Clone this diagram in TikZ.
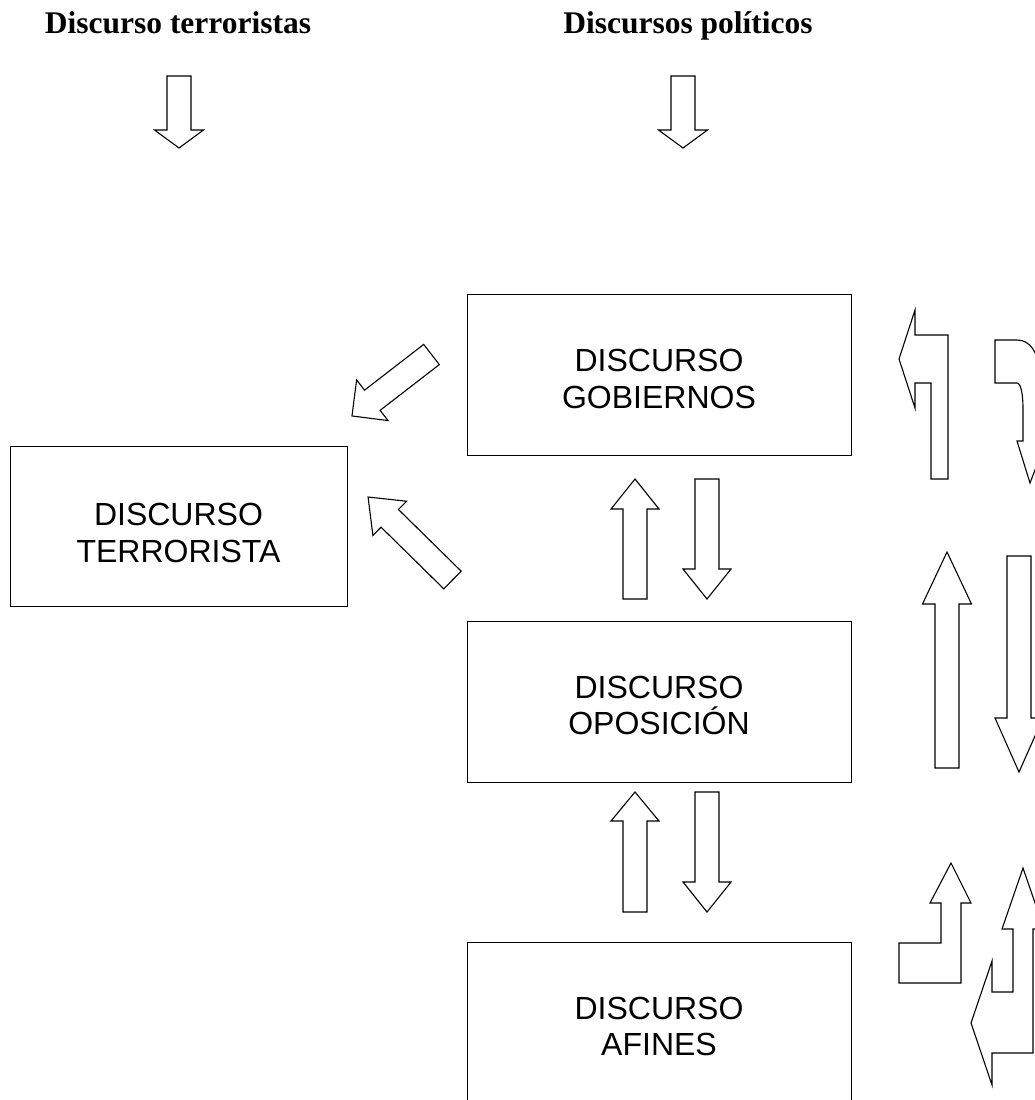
\documentclass[tikz,border=0pt]{standalone}
\usepackage{fontspec}
\setmainfont{Liberation Serif}
\newfontfamily\boxfont{Liberation Sans}

% straight block arrow: start x, start y, direction, length, shaft half-width, head half-width, head length
\newcommand\blockarr[7]{%
  \draw[blockarrow,shift={(#1,#2)},rotate=#3]
    (0,-#5) -- ({#4-#7},-#5) -- ({#4-#7},-#6) -- (#4,0) --
    ({#4-#7},#6) -- ({#4-#7},#5) -- (0,#5) -- cycle;}

\begin{document}
\begin{tikzpicture}[x=1pt,y=-1pt,
  panel/.style={draw=black,line width=1.4pt,inner sep=0pt,anchor=north west},
  panellabel/.style={font=\boxfont\fontsize{32}{36.5}\selectfont,align=center,inner sep=0pt},
  heading/.style={font=\fontsize{31.5}{36}\selectfont\bfseries,inner sep=0pt,anchor=base},
  blockarrow/.style={draw=black,line width=1.1pt,fill=white,line join=miter}]

\useasboundingbox (0,0) rectangle (1034,1100);

% headings
\node[heading] (hterr) at (178,33) {Discurso terroristas};
\node[heading] (hpol) at (688,33) {Discursos políticos};

% arrows under the headings
\blockarr{179}{76}{270}{72}{12}{24.5}{18}
\blockarr{683}{76}{270}{72}{12}{24.5}{18}

% panels
\node[panel,minimum width=384pt,minimum height=161pt] (gob) at (467,294) {};
\node[panellabel] (gobtxt) at (659,379) {DISCURSO\\GOBIERNOS};

\node[panel,minimum width=337pt,minimum height=160pt] (ter) at (10,446) {};
\node[panellabel] (tertxt) at (178.5,533) {DISCURSO\\TERRORISTA};

\node[panel,minimum width=384pt,minimum height=161pt] (opo) at (467,621) {};
\node[panellabel] (opotxt) at (659,705.5) {DISCURSO\\OPOSICIÓN};

\node[panel,minimum width=384pt,minimum height=161pt] (afi) at (467,942) {};
\node[panellabel] (afitxt) at (659,1026.5) {DISCURSO\\AFINES};

% diagonal arrows towards the terrorist discourse
\blockarr{431.5}{354.5}{217.7}{100.5}{12.75}{25.7}{25.7}
\blockarr{452.5}{580}{135.5}{118.4}{12.4}{24}{30.4}

% arrows between the political panels
\blockarr{635}{599}{90}{120}{12}{24}{30}
\blockarr{707}{479}{270}{120}{12}{24}{30}
\blockarr{635}{912}{90}{120}{12}{24}{29}
\blockarr{707}{792}{270}{120}{12}{24}{30}

% right-hand column of arrows
\draw[blockarrow] (915,310) -- (915,335) -- (948,335) -- (948,479) -- (931,479)
  -- (931,383) -- (915,383) -- (915,408) -- (899,359) -- cycle;
\draw[blockarrow] (995,340) -- (1017,340) .. controls (1030,340) and (1038,352) .. (1040,372)
  -- (1040,441) -- (1046,441) -- (1030,483) -- (1017,441) -- (1023,441) -- (1023,408)
  .. controls (1023,395) and (1021,383) .. (1017,383) -- (995,383) -- cycle;

\blockarr{947}{768}{90}{216}{12}{24.5}{52}
\blockarr{1019}{556}{270}{216}{12}{24}{54}

\draw[blockarrow] (951,863) -- (971,903) -- (961,903) -- (961,983) -- (899,983)
  -- (899,943) -- (941,943) -- (941,903) -- (930,903) -- cycle;
\draw[blockarrow] (1023,868) -- (1044,929) -- (1033,929) -- (1033,1053) -- (992,1053)
  -- (992,1085) -- (971,1023) -- (992,961) -- (992,992) -- (1013,992) -- (1013,929)
  -- (1002,929) -- cycle;
\end{tikzpicture}
\end{document}
